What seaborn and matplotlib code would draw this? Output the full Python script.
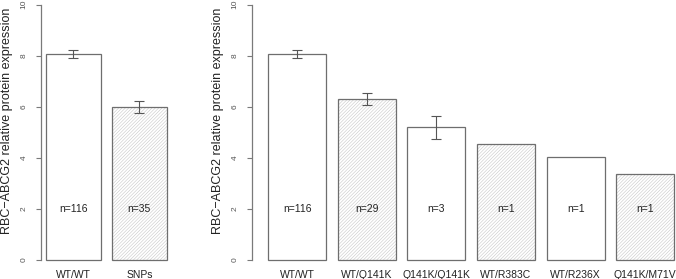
import numpy as np
import pandas as pd
import seaborn as sns
import matplotlib
matplotlib.use("Agg")
import matplotlib.pyplot as plt
from matplotlib.patches import Rectangle

# left panel: all WT vs all SNP carriers
left_groups = ["WT/WT", "SNPs"]
left_means = [8.07, 5.99]
left_err = [0.16, 0.22]
left_n = [116, 35]
left_hatched = [False, True]

# right panel: by genotype
right_groups = ["WT/WT", "WT/Q141K", "Q141K/Q141K", "WT/R383C", "WT/R236X", "Q141K/M71V"]
right_means = [8.07, 6.30, 5.20, 4.54, 4.03, 3.35]
right_err = [0.16, 0.23, 0.46, np.nan, np.nan, np.nan]
right_n = [116, 29, 3, 1, 1, 1]
right_hatched = [False, True, False, True, False, True]

ytick_vals = [0, 2, 4, 6, 8, 10]
ylabel = "RBC\u2212ABCG2 relative protein expression"

EDGE = "#6e6e6e"
HATCH = "#c8c8c8"
AXC = "#7a7a7a"

sns.set_style("white")
plt.rcParams["font.family"] = ["Liberation Sans", "DejaVu Sans"]
plt.rcParams["hatch.linewidth"] = 0.4

W, H = 676, 279


def panel(ax, groups, means, err, ns, hatched, width_px):
    df = pd.DataFrame({"group": groups, "value": means})
    sns.barplot(data=df, x="group", y="value", order=groups, color="white",
                width=1 / 1.2, errorbar=None, saturation=1, ax=ax,
                edgecolor=EDGE, linewidth=0.9)
    for p, h in zip(ax.patches, hatched):
        if h:
            p.set_hatch("//////////")
            p.set_edgecolor(HATCH)
            p.set_linewidth(0)
            ax.add_patch(Rectangle(p.get_xy(), p.get_width(), p.get_height(),
                                   fill=False, edgecolor=EDGE, linewidth=0.9, zorder=3))
    xs = np.arange(len(groups))
    ax.errorbar(xs, means, yerr=err, fmt="none", ecolor="#555555",
                elinewidth=0.8, capsize=3.6, capthick=0.8, zorder=4)
    for x, n in zip(xs, ns):
        ax.text(x, 2, f"n={n}", ha="center", va="center", fontsize=7.5, color="#222222", zorder=5)

    ax.set_ylim(-0.4, 10.4)
    ax.set_yticks(ytick_vals)
    ax.set_yticklabels([str(v) for v in ytick_vals], rotation=90, va="center",
                       fontsize=6, color="#555555")
    ax.tick_params(axis="y", left=True, length=3.6, width=0.8, color=AXC, pad=6)
    ax.tick_params(axis="x", bottom=False, labelsize=7.5, labelcolor="#222222", pad=-4)
    for s in ["top", "right", "bottom"]:
        ax.spines[s].set_visible(False)
    ax.spines["left"].set_bounds(0, 10)
    ax.spines["left"].set_color(AXC)
    ax.spines["left"].set_linewidth(0.9)
    ax.set_xlabel("")
    ax.set_ylabel(ylabel, fontsize=9, color="#222222")
    ax.yaxis.set_label_coords(-28 / width_px, (5.45 + 0.4) / 10.8)


bot = (H - 270.2) / H
top = (H + 5.5) / H
fig = plt.figure(figsize=(W / 100, H / 100), dpi=100)

ax1 = fig.add_axes([41 / W, bot, 130.7 / W, top - bot])
panel(ax1, left_groups, left_means, left_err, left_n, left_hatched, 130.7)
ax1.set_xlim(-0.49, 1.49)

ax2 = fig.add_axes([252 / W, bot, 438.5 / W, top - bot])
panel(ax2, right_groups, right_means, right_err, right_n, right_hatched, 438.5)
ax2.set_xlim(-0.65, 5.65)

fig.savefig("out.png", dpi=100)
